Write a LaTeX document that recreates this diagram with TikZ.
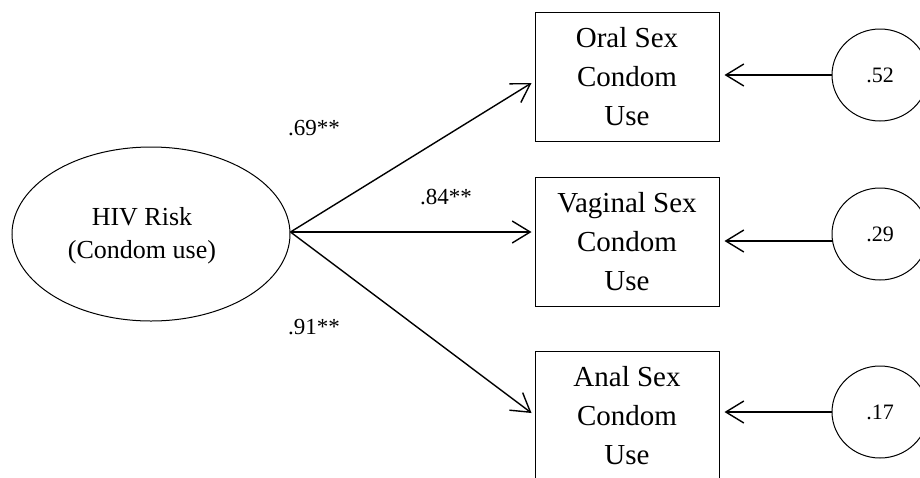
\documentclass[tikz,border=0pt]{standalone}
\usepackage{fontspec}
\setmainfont{Liberation Serif}
\usetikzlibrary{arrows.meta,shapes.geometric}
\begin{document}
\begin{tikzpicture}[x=0.5pt,y=-0.5pt,
  latent/.style={draw,ellipse,line width=0.5pt,inner sep=0pt,
    minimum width=139pt,minimum height=87pt},
  latentname/.style={inner sep=0pt,align=center,
    font=\fontsize{13}{16.5}\selectfont},
  errterm/.style={draw,ellipse,line width=0.5pt,inner sep=0pt,
    minimum width=48pt,minimum height=46pt,
    font=\fontsize{11}{13}\selectfont},
  indicator/.style={draw,rectangle,line width=0.5pt,inner sep=0pt,
    minimum width=92pt,minimum height=64.5pt,align=center,
    font=\fontsize{14.5}{19.5}\selectfont},
  loading/.style={inner sep=0pt,font=\fontsize{11.5}{14}\selectfont},
  path arrow/.style={line width=0.7pt,
    -{Straight Barb[length=9pt,width=11pt,line width=0.7pt]}}]
\path[use as bounding box,clip] (0,0) rectangle (920,477);

% latent factor
\node[latent] (hiv) at (151,234) {};
\node[latentname] (hivname) at (142,236) {HIV Risk\\(Condom use)};
\coordinate (src) at ([yshift=1pt]hiv.east);

% observed indicators
\node[indicator] (b1) at (627,76.5) {Oral Sex\\Condom\\Use};
\node[indicator] (b2) at (627,241.5) {Vaginal Sex\\Condom\\Use};
\node[indicator] (b3) at (627,415.5) {Anal Sex\\Condom\\Use};

% residual variances
\node[errterm] (e1) at (880,75) {.52};
\node[errterm] (e2) at (880,234) {.29};
\node[errterm] (e3) at (880,412) {.17};

% factor loadings
\draw[path arrow] (src) -- ([xshift=-1.5pt,yshift=-3.25pt]b1.west);
\draw[path arrow] (src) -- ([xshift=-1.5pt]b2.west |- src);
\draw[path arrow] (src) -- ([xshift=-1.5pt,yshift=1.25pt]b3.west);

\node[loading] (l1) at (314,128) {.69**};
\node[loading] (l2) at (446,197) {.84**};
\node[loading] (l3) at (314,327) {.91**};

% residual paths
\draw[path arrow] (e1.west) -- ([xshift=2.5pt]b1.east |- e1.west);
\draw[path arrow] ([yshift=-3.5pt]e2.west) -- ([xshift=2.5pt,yshift=-3.5pt]b2.east |- e2.west);
\draw[path arrow] (e3.west) -- ([xshift=2.5pt]b3.east |- e3.west);
\end{tikzpicture}
\end{document}
